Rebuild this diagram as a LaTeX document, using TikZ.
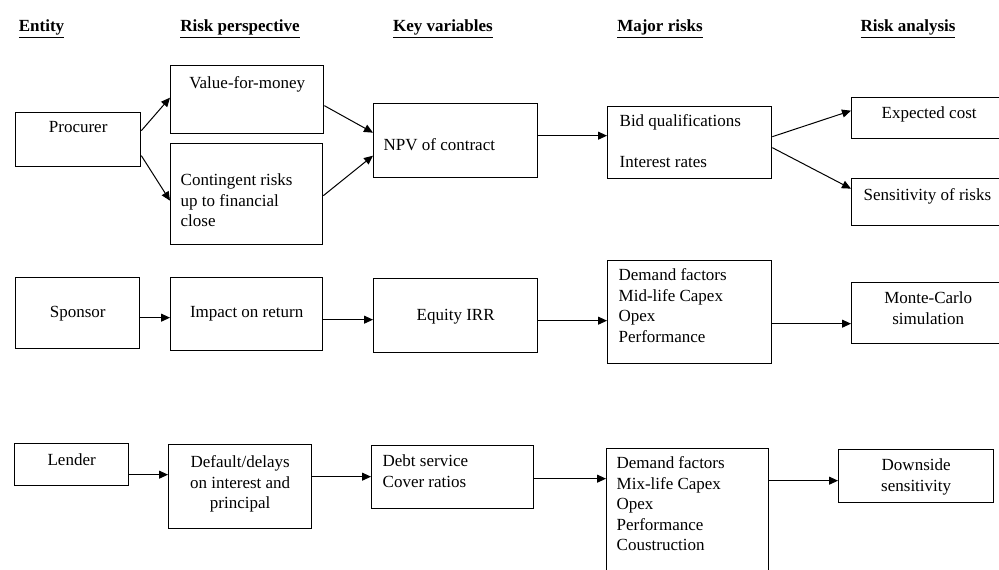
\documentclass[tikz,border=0pt]{standalone}
\usepackage{fontspec}
\setmainfont{Liberation Serif}
\usetikzlibrary{arrows.meta,calc}
\newdimen\px \px=0.6pt
% width, height, first baseline from top, alignment, text
\newcommand\bt[5]{\parbox[c][#2\px][t]{#1\px}{#4\rule{0pt}{#3\px}#5\par}}
\newcommand\lft[1]{\raggedright\leftskip=#1\px\relax}
\tikzset{
  box/.style={draw, line width=0.8pt, inner sep=0pt, anchor=north west},
  arr/.style={-{Triangle[length=5.4pt,width=4.8pt]}, line width=0.6pt},
  head/.style={font=\fontsize{10.2pt}{12.3pt}\selectfont\bfseries, inner sep=0pt, anchor=base}
}
\begin{document}
\begin{tikzpicture}[x=0.6pt, y=-0.6pt, font=\fontsize{10.2pt}{12.3pt}\selectfont]
\useasboundingbox (0,0) rectangle (999,569);
\clip (0,0) rectangle (999,569);
% headers
\node[head] (h1) at (41.5,31) {\underline{Entity}};
\node[head] (h2) at (240,31) {\underline{Risk perspective}};
\node[head] (h3) at (443,31) {\underline{Key variables}};
\node[head] (h4) at (660,31) {\underline{Major risks}};
\node[head] (h5) at (908,31) {\underline{Risk analysis}};
% row 1
\node[box] (proc) at (15,112) {\bt{125}{54}{20}{\centering}{Procurer}};
\node[box] (vfm) at (170,65) {\bt{153}{68}{23}{\centering}{Value-for-money}};
\node[box] (cont) at (170,143) {\bt{152}{101}{42}{\lft{10}}{Contingent risks\\up to financial\\close}};
\node[box] (npv) at (373,103) {\bt{164}{74}{47}{\lft{10}}{NPV of contract}};
\node[box] (bid) at (607,106) {\bt{164}{72}{20}{\lft{12}}{Bid qualifications\\[20\px]Interest rates}};
\node[box] (exp) at (851,97) {\bt{155}{41}{21}{\centering}{Expected cost}};
\node[box] (sens) at (851,178) {\bt{155}{47}{22}{\lft{12}}{Sensitivity of risks}};
% row 2
\node[box] (spon) at (15,277) {\bt{124}{71}{40}{\centering}{Sponsor}};
\node[box] (imp) at (170,277) {\bt{152}{73}{40}{\centering}{Impact on return}};
\node[box] (eq) at (373,278) {\bt{164}{74}{42}{\centering}{Equity IRR}};
\node[box] (dem2) at (607,260) {\bt{164}{103}{20}{\lft{11}}{Demand factors\\Mid-life Capex\\Opex\\Performance}};
\node[box] (mc) at (851,282) {\bt{153}{61}{21}{\centering}{Monte-Carlo\\simulation}};
% row 3
\node[box] (lend) at (14,443) {\bt{114}{42}{22}{\centering}{Lender}};
\node[box] (def) at (168,444) {\bt{143}{84}{23}{\centering}{Default/delays\\on interest and\\principal}};
\node[box] (debt) at (371,445) {\bt{162}{63}{21}{\lft{11}}{Debt service\\Cover ratios}};
\node[box] (dem3) at (606,448) {\bt{162}{140}{20}{\lft{10}}{Demand factors\\Mix-life Capex\\Opex\\Performance\\Coustruction}};
\node[box] (down) at (838,449) {\bt{155}{53}{21}{\centering}{Downside\\sensitivity}};
% connectors row 1
\draw[arr] ($(proc.east)+(0,-9)$) -- ($(vfm.west)+(0,-2)$);
\draw[arr] ($(proc.east)+(0,16)$) -- ($(cont.west)+(0,6.5)$);
\draw[arr] ($(vfm.east)+(0,6)$) -- ($(npv.west)+(0,-8)$);
\draw[arr] ($(cont.east)+(0,1.5)$) -- ($(npv.west)+(0,15)$);
\draw[arr] ($(npv.east)+(0,-5)$) coordinate (a5) -- (a5 -| bid.west);
\draw[arr] ($(bid.east)+(0,-6)$) -- ($(exp.west)+(0,-7.5)$);
\draw[arr] ($(bid.east)+(0,5)$) -- ($(sens.west)+(0,-13.5)$);
% connectors row 2
\draw[arr] ($(spon.east)+(0,4.5)$) coordinate (a8) -- (a8 -| imp.west);
\draw[arr] ($(imp.east)+(0,5.5)$) coordinate (a9) -- (a9 -| eq.west);
\draw[arr] ($(eq.east)+(0,5)$) coordinate (a10) -- (a10 -| dem2.west);
\draw[arr] ($(dem2.east)+(0,11.5)$) coordinate (a11) -- (a11 -| mc.west);
% connectors row 3
\draw[arr] ($(lend.east)+(0,10)$) coordinate (a12) -- (a12 -| def.west);
\draw[arr] ($(def.east)+(0,-10)$) coordinate (a13) -- (a13 -| debt.west);
\draw[arr] ($(debt.east)+(0,1.5)$) coordinate (a14) -- (a14 -| dem3.west);
\coordinate (a15) at ($(down.west)+(0,4.5)$);
\draw[arr] (a15 -| dem3.east) -- (a15);
\end{tikzpicture}
\end{document}
